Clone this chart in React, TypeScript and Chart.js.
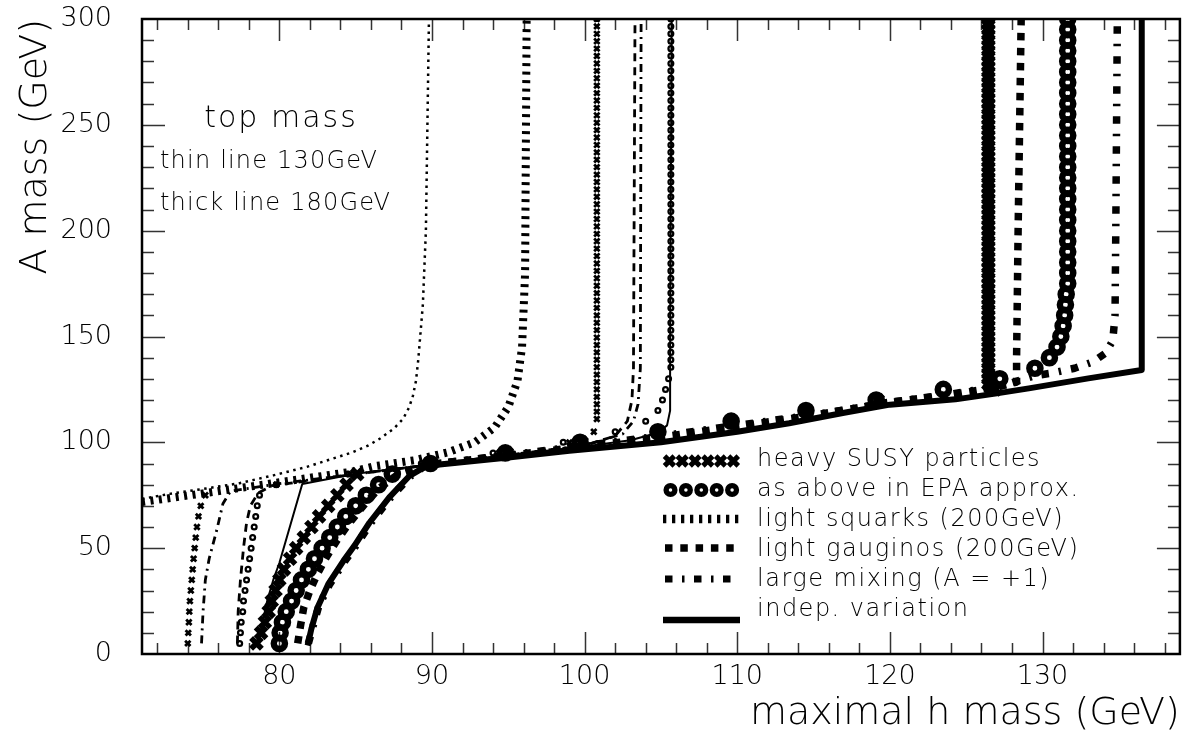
import React, { useEffect, useRef } from 'react';
import { Chart, registerables } from 'chart.js';

Chart.register(...registerables);

const FONT = '"DejaVu Sans", "Liberation Sans", sans-serif';
const W = 1193;
const H = 743;

// ---- axes ----
const xMin = 71;
const xMax = 139;
const yMin = 0;
const yMax = 300;
const xTickLabels = [80, 90, 100, 110, 120, 130];
const yTickLabels = [0, 50, 100, 150, 200, 250, 300];
const xTitle = 'maximal h mass (GeV)';
const yTitle = 'A mass (GeV)';
const noteLines = ['top mass', 'thin line 130GeV', 'thick line 180GeV'];
const legendLabels = [
  'heavy SUSY particles',
  'as above in EPA approx.',
  'light squarks (200GeV)',
  'light gauginos (200GeV)',
  'large mixing (A = +1)',
  'indep. variation',
];

// ---- heavy SUSY particles (crosses) ----
const susyThickMh = [78.5, 78.8, 79.05, 79.3, 79.5, 79.75, 80.0, 80.3, 80.7, 81.1, 81.6, 82.1, 82.6, 83.2, 83.8, 84.4, 85.1, 89.9, 94.9, 99.8, 104.8, 109.6, 114.5, 119.2, 126.9];
const susyThickA = [5, 10, 15, 20, 25, 30, 35, 40, 45, 50, 55, 60, 65, 70, 75, 80, 85, 90, 95, 100, 105, 110, 115, 120, 125];
const susyThickColMh = 126.45;
const susyThickColA = [127.5, 130, 132.5, 135, 137.5, 140, 142.5, 145, 147.5, 150, 152.5, 155, 157.5, 160, 162.5, 165, 167.5, 170, 172.5, 175, 177.5, 180, 182.5, 185, 187.5, 190, 192.5, 195, 197.5, 200, 202.5, 205, 207.5, 210, 212.5, 215, 217.5, 220, 222.5, 225, 227.5, 230, 232.5, 235, 237.5, 240, 242.5, 245, 247.5, 250, 252.5, 255, 257.5, 260, 262.5, 265, 267.5, 270, 272.5, 275, 277.5, 280, 282.5, 285, 287.5, 290, 292.5, 295, 297.5, 300];

const susyThinMh = [74.0, 74.03, 74.07, 74.1, 74.14, 74.2, 74.26, 74.32, 74.38, 74.45, 74.52, 74.6, 74.7, 74.85, 75.15, 79.8, 84.6, 89.5, 94.4, 99.0, 100.6];
const susyThinA = [5, 10, 15, 20, 25, 30, 35, 40, 45, 50, 55, 60, 65, 70, 75, 80, 85, 90, 95, 100, 105];
const susyThinColMh = 100.8;
const susyThinColA = [111, 114.5, 118, 121.5, 125, 128.5, 132, 135.5, 139, 142.5, 146, 149.5, 153, 156.5, 160, 163.5, 167, 170.5, 174, 177.5, 181, 184.5, 188, 191.5, 195, 198.5, 202, 205.5, 209, 212.5, 216, 219.5, 223, 226.5, 230, 233.5, 237, 240.5, 244, 247.5, 251, 254.5, 258, 261.5, 265, 268.5, 272, 275.5, 279, 282.5, 286, 289.5, 293, 296.5, 300];

// ---- as above in EPA approx. (circles) ----
const epaThickMh = [80.0, 80.05, 80.2, 80.45, 80.8, 81.1, 81.45, 81.9, 82.3, 82.8, 83.3, 83.8, 84.35, 85.0, 85.7, 86.5, 87.4, 89.9, 94.8, 99.7, 104.8, 109.6, 114.5, 119.1, 123.5, 127.2, 129.5, 130.45, 130.95, 131.2, 131.35, 131.45, 131.5, 131.55];
const epaThickA = [5, 10, 15, 20, 25, 30, 35, 40, 45, 50, 55, 60, 65, 70, 75, 80, 85, 90, 95, 100, 105, 110, 115, 120, 125, 130, 135, 140, 145, 150, 155, 160, 165, 170];
const epaThickColMh = 131.65;
const epaThickColA = [175, 180, 185, 190, 195, 200, 205, 210, 215, 220, 225, 230, 235, 240, 245, 250, 255, 260, 265, 270, 275, 280, 285, 290, 295, 300];

const epaThinMh = [77.4, 77.45, 77.5, 77.6, 77.65, 77.75, 77.85, 77.95, 78.05, 78.15, 78.25, 78.35, 78.45, 78.55, 78.7, 79.8, 84.5, 89.3, 94.0, 98.6, 102.0, 104.0, 104.8, 105.1, 105.3, 105.5];
const epaThinA = [5, 10, 15, 20, 25, 30, 35, 40, 45, 50, 55, 60, 65, 70, 75, 80, 85, 90, 95, 100, 105, 110, 115, 120, 125, 130];
const epaThinColMh = 105.65;
const epaThinColA = [135.5, 139, 142.5, 146, 149.5, 153, 156.5, 160, 163.5, 167, 170.5, 174, 177.5, 181, 184.5, 188, 191.5, 195, 198.5, 202, 205.5, 209, 212.5, 216, 219.5, 223, 226.5, 230, 233.5, 237, 240.5, 244, 247.5, 251, 254.5, 258, 261.5, 265, 268.5, 272, 275.5, 279, 282.5, 286, 289.5, 293, 296.5, 300];

// ---- light squarks (dotted) ----
const sqThinMh = [71, 73, 75.2, 77.4, 79.6, 81.8, 83.5, 84.8, 85.8, 86.6, 87.5, 88.1, 88.5, 88.75, 88.95, 89.1, 89.4, 89.6, 89.8];
const sqThinA = [73.3, 75.9, 78.2, 80.7, 84.4, 88.4, 92.3, 95.3, 98.4, 101.8, 106.5, 111, 116.5, 122, 129, 139, 165, 200, 300];
const sqThickMh = [71, 75, 79.6, 84.8, 86.3, 88.9, 91.1, 92.8, 94.1, 95.0, 95.6, 95.9, 96.1, 96.2];
const sqThickA = [71.8, 75.9, 80.7, 86.2, 88.8, 91.6, 95.4, 100, 107, 116.7, 129, 145, 180, 300];

// ---- light gauginos (dashed) ----
const gauThinMh = [77.25, 77.3, 77.45, 77.65, 77.85, 78.1, 78.6, 79.5, 84, 90, 95, 100, 102, 102.8, 103.1, 103.2, 103.3];
const gauThinA = [5, 20, 35, 50, 62, 70, 76, 79.5, 84, 89.5, 94, 98.5, 103, 110, 120, 135, 300];
const gauThickMh = [81.2, 81.4, 81.6, 82.0, 82.5, 83.1, 83.8, 84.6, 85.5, 86.5, 87.8, 89.5, 95, 100, 105, 110, 115, 120, 124, 127, 128.3, 128.3, 128.4, 128.6];
const gauThickA = [5, 14, 22, 30, 38, 46, 54, 62, 70, 78, 85, 89.3, 93.8, 98, 102.5, 107.5, 112.8, 119, 122.5, 126, 128.5, 140, 200, 300];

// ---- large mixing (dash-dot) ----
const mixThinMh = [74.9, 75.0, 75.15, 75.4, 75.9, 76.3, 76.8, 80, 85, 90, 95, 100, 102.5, 103.2, 103.5, 103.65, 103.7];
const mixThinA = [5, 20, 35, 45, 58.6, 71, 77, 80.5, 85, 89.5, 94, 98.5, 104, 110, 118, 135, 300];
const mixThickMh = [81.9, 82.2, 82.6, 83.3, 84.3, 85.0, 86.0, 87.3, 88.6, 89.6, 95, 100, 105, 110, 115, 120, 124, 127.5, 129.5, 130.6, 132.1, 133.3, 134.1, 134.6, 134.75, 134.8, 134.9];
const mixThickA = [5, 13, 23, 33, 44, 51, 62, 74, 84, 89.3, 94, 98.5, 103, 108, 113, 118.8, 122.8, 127, 131.5, 132.7, 135, 138, 142, 148, 160, 200, 300];

// ---- indep. variation (solid) ----
const indThinMh = [78.6, 78.9, 79.2, 79.6, 80.0, 81.5, 85, 90, 95, 100, 103, 104.8, 105.4, 105.6, 105.6, 105.7];
const indThinA = [5, 15, 25, 35, 43, 80.3, 85.2, 89.6, 94, 98, 101, 104.5, 108, 115, 140, 300];
const indThickMh = [81.85, 82.1, 82.5, 83.2, 84.2, 84.9, 85.9, 87.2, 88.5, 89.5, 90.5, 95, 99, 105, 110, 113.4, 117, 120, 124.3, 126.9, 129.1, 133, 136.5, 136.5];
const indThickA = [4, 12, 22, 33, 44, 51, 62, 74, 84, 88.3, 89.5, 92.8, 96, 100, 105, 109, 114, 117.8, 120.3, 123, 125.5, 130.2, 134.2, 300];

// ---- styles ----
const THICK_DOT = { w: 8, dash: [3, 5.5] };
const THIN_DOT = { w: 2.5, dash: [2.5, 4.5] };
const THICK_DASH = { w: 7.5, dash: [7.5, 7.5] };
const THIN_DASH = { w: 2.8, dash: [8, 6] };
const THICK_DD = { w: 7.5, dash: [7.5, 10, 2.5, 10] };
const THIN_DD = { w: 2.8, dash: [8, 5, 2, 5] };
const THICK_SOLID = { w: 6, dash: [] as number[] };
const THIN_SOLID = { w: 2, dash: [] as number[] };

const toPts = (mh: number[], a: number[]) => mh.map((x, i) => ({ x, y: a[i] }));
const colPts = (x: number, a: number[]) => a.map((y) => ({ x, y }));

const lineDs = (data: any[], st: { w: number; dash: number[] }) => ({
  data,
  showLine: true,
  borderColor: '#000',
  backgroundColor: '#000',
  borderWidth: st.w,
  borderDash: st.dash,
  borderCapStyle: 'butt',
  borderJoinStyle: 'round',
  pointRadius: 0,
  pointHoverRadius: 0,
  tension: 0,
  clip: 0,
});

const markerDs = (data: any[], style: string, r: number, w: number) => ({
  data,
  showLine: false,
  pointStyle: style,
  pointRadius: r,
  pointHoverRadius: r,
  pointBorderWidth: w,
  pointBorderColor: '#000',
  pointBackgroundColor: 'rgba(0,0,0,0)',
  borderColor: '#000',
  backgroundColor: 'rgba(0,0,0,0)',
});

function drawCross(ctx: CanvasRenderingContext2D, x: number, y: number, r: number, w: number) {
  const d = r * Math.SQRT1_2;
  ctx.lineWidth = w;
  ctx.beginPath();
  ctx.moveTo(x - d, y - d);
  ctx.lineTo(x + d, y + d);
  ctx.moveTo(x + d, y - d);
  ctx.lineTo(x - d, y + d);
  ctx.stroke();
}
function drawRing(ctx: CanvasRenderingContext2D, x: number, y: number, r: number, w: number) {
  ctx.lineWidth = w;
  ctx.beginPath();
  ctx.arc(x, y, r, 0, Math.PI * 2);
  ctx.stroke();
}
function drawSeg(ctx: CanvasRenderingContext2D, x0: number, x1: number, y: number, w: number, dash: number[]) {
  ctx.lineWidth = w;
  ctx.setLineDash(dash);
  ctx.lineCap = 'butt';
  ctx.beginPath();
  ctx.moveTo(x0, y);
  ctx.lineTo(x1, y);
  ctx.stroke();
  ctx.setLineDash([]);
}

const ticksPlugin = {
  id: 'innerTicks',
  beforeDatasetsDraw(chart: any) {
    const { ctx, chartArea: a, scales } = chart;
    const xs = scales.x;
    const ys = scales.y;
    ctx.save();
    ctx.strokeStyle = '#333';
    ctx.lineWidth = 1.5;
    ctx.beginPath();
    for (let v = 72; v <= 138; v += 2) {
      const px = Math.round(xs.getPixelForValue(v)) + 0.5;
      const len = v % 10 === 0 ? 22 : 11;
      ctx.moveTo(px, a.bottom);
      ctx.lineTo(px, a.bottom - len);
      ctx.moveTo(px, a.top);
      ctx.lineTo(px, a.top + len);
    }
    for (let v = 10; v < 300; v += 10) {
      const py = Math.round(ys.getPixelForValue(v)) + 0.5;
      const len = v % 50 === 0 ? 23 : 12;
      ctx.moveTo(a.left, py);
      ctx.lineTo(a.left + len, py);
      ctx.moveTo(a.right, py);
      ctx.lineTo(a.right - len, py);
    }
    ctx.stroke();
    ctx.restore();
  },
  afterDatasetsDraw(chart: any) {
    const { ctx, chartArea: a } = chart;
    ctx.save();
    ctx.strokeStyle = '#000';
    ctx.lineWidth = 2.5;
    ctx.strokeRect(a.left, a.top, a.right - a.left, a.bottom - a.top);
    ctx.restore();
  },
};

const legendPlugin = {
  id: 'legendNotes',
  afterDraw(chart: any) {
    const ctx: CanvasRenderingContext2D = chart.ctx;
    ctx.save();
    ctx.strokeStyle = '#000';
    ctx.fillStyle = '#000';
    const x0 = 663;
    const x1 = 740;
    const symY = [461, 490, 519, 548, 579, 620];
    for (let i = 0; i < 6; i++) drawCross(ctx, 669.4 + i * 12.8, symY[0], 6.9, 5);
    for (let i = 0; i < 5; i++) drawRing(ctx, 670.5 + i * 15.4, symY[1], 4.4, 5.3);
    drawSeg(ctx, x0, x1, symY[2], 8.3, [3.3, 5.7]);
    drawSeg(ctx, x0 + 2, x1, symY[3], 7.5, [7.5, 7.8]);
    drawSeg(ctx, x0 + 2, x1, symY[4], 7, [7.5, 9.5, 2.5, 9.5]);
    drawSeg(ctx, x0, x1, symY[5], 6.5, []);

    ctx.textAlign = 'left';
    ctx.textBaseline = 'alphabetic';
    ctx.font = `200 24px ${FONT}`;
    (ctx as any).letterSpacing = '1.5px';
    legendLabels.forEach((t, i) => ctx.fillText(t, 757, 466 + i * 30));

    ctx.font = `200 30px ${FONT}`;
    (ctx as any).letterSpacing = '2px';
    ctx.textAlign = 'center';
    ctx.fillText(noteLines[0], 281, 127);
    ctx.font = `200 24px ${FONT}`;
    (ctx as any).letterSpacing = '1.2px';
    ctx.textAlign = 'left';
    ctx.fillText(noteLines[1], 160, 168);
    ctx.fillText(noteLines[2], 160, 210);
    ctx.restore();
  },
};

export default function App() {
  const ref = useRef<HTMLCanvasElement | null>(null);
  useEffect(() => {
    if (!ref.current) return;
    const datasets: any[] = [
      markerDs([...toPts(epaThickMh, epaThickA), ...colPts(epaThickColMh, epaThickColA)], 'circle', 5.6, 6.4),
      markerDs([...toPts(susyThickMh, susyThickA), ...colPts(susyThickColMh, susyThickColA)], 'crossRot', 7.6, 5.5),
      markerDs([...toPts(epaThinMh, epaThinA), ...colPts(epaThinColMh, epaThinColA)], 'circle', 2.4, 2.25),
      markerDs([...toPts(susyThinMh, susyThinA), ...colPts(susyThinColMh, susyThinColA)], 'crossRot', 3.8, 2.8),
      lineDs(toPts(indThinMh, indThinA), THIN_SOLID),
      lineDs(toPts(mixThinMh, mixThinA), THIN_DD),
      lineDs(toPts(gauThinMh, gauThinA), THIN_DASH),
      lineDs(toPts(sqThinMh, sqThinA), THIN_DOT),
      lineDs(toPts(indThickMh, indThickA), THICK_SOLID),
      lineDs(toPts(mixThickMh, mixThickA), THICK_DD),
      lineDs(toPts(gauThickMh, gauThickA), THICK_DASH),
      lineDs(toPts(sqThickMh, sqThickA), THICK_DOT),
    ];
    const tickFont = { family: FONT, size: 27, weight: '200' };
    const titleFont = { family: FONT, size: 38, weight: '200' };
    const chart = new Chart(ref.current, {
      type: 'scatter',
      data: { datasets },
      plugins: [ticksPlugin, legendPlugin],
      options: {
        animation: false,
        responsive: false,
        maintainAspectRatio: false,
        events: [],
        layout: { padding: { top: 19, right: 7, left: 0, bottom: 0 } },
        plugins: { legend: { display: false }, tooltip: { enabled: false } },
        scales: {
          x: {
            type: 'linear',
            position: 'bottom',
            min: xMin,
            max: xMax,
            afterBuildTicks: (s: any) => {
              s.ticks = xTickLabels.map((v) => ({ value: v }));
            },
            afterFit: (s: any) => {
              s.height = 89;
              s.paddingLeft = 0;
              s.paddingRight = 0;
            },
            grid: { display: false, drawTicks: false, tickLength: 0 },
            border: { display: false },
            ticks: { font: tickFont, color: '#000', padding: 7, maxRotation: 0, autoSkip: false },
            title: {
              display: true,
              text: xTitle,
              align: 'end',
              color: '#000',
              font: titleFont,
              padding: { top: 0, bottom: 6 },
            },
          },
          y: {
            type: 'linear',
            position: 'left',
            min: yMin,
            max: yMax,
            afterBuildTicks: (s: any) => {
              s.ticks = yTickLabels.map((v) => ({ value: v }));
            },
            afterFit: (s: any) => {
              s.width = 142;
              s.paddingTop = 0;
              s.paddingBottom = 0;
            },
            grid: { display: false, drawTicks: false, tickLength: 0 },
            border: { display: false },
            ticks: { font: tickFont, color: '#000', padding: 30, autoSkip: false },
            title: {
              display: true,
              text: yTitle,
              align: 'end',
              color: '#000',
              font: titleFont,
              padding: { top: 13, bottom: 0 },
            },
          },
        },
      } as any,
    });
    return () => chart.destroy();
  }, []);
  return (
    <div style={{ position: 'fixed', left: 0, top: 0, width: W, height: H, background: '#fff' }}>
      <canvas ref={ref} width={W} height={H} style={{ width: W, height: H, display: 'block' }} />
    </div>
  );
}
